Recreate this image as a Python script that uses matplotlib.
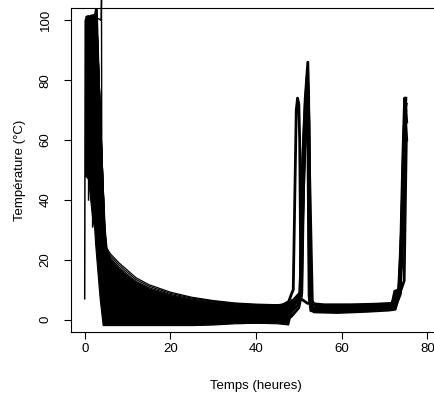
import numpy as np
import matplotlib
matplotlib.use("Agg")
import matplotlib.pyplot as plt

plt.rcParams['font.family'] = ['Liberation Sans', 'DejaVu Sans']

# dense mass of curves (time in hours, temperature in C)
mass_t = [0.2, 0.8, 1.3, 1.8, 2.2, 2.4, 2.8, 3.5, 4.2, 4.7, 5.1, 6, 8, 10, 12, 15,
          20, 25, 30, 35, 40, 45, 47.5, 48.3]
mass_hi = [101.5, 101.5, 101.8, 102, 102, 104, 104, 70, 45, 30, 24, 20, 17, 14.5,
           12.5, 10.3, 8.0, 6.6, 5.6, 5.0, 4.6, 4.5, 5.5, 7]
mass_lo = [48, 47, 40, 33, 31, 26, 19, 7, -1.8, -1.8, -1.8, -1.8, -1.8, -1.8,
           -1.8, -1.8, -1.8, -1.8, -1.6, -1.2, -1.0, -1.2, -1.6, 3]

# upper cooling curves (visible as separate lines)
cool_t = [2.8, 4.7, 5.1, 6, 8, 10, 12, 15, 20, 25, 30, 35, 40, 45, 48]
cool_1 = [101, 30, 24, 22, 19, 16.5, 14, 11.7, 9.2, 7.5, 6.4, 5.6, 5.2, 5.0, 5.5]
cool_2 = [101, 29.5, 23.5, 21.3, 18.3, 15.8, 13.4, 11.2, 8.8, 7.2, 6.2, 5.4, 5.0, 4.8, 5.3]
cool_3 = [101, 29, 23, 20.6, 17.6, 15.1, 12.8, 10.7, 8.4, 6.9, 5.9, 5.2, 4.8, 4.6, 5.0]
cool_4 = [101, 28.5, 22.5, 20.0, 17.0, 14.6, 12.4, 10.3, 8.1, 6.6, 5.7, 5.0, 4.6, 4.5, 4.8]

# start of the records
start_t = [[0.0, 0.12, 0.5], [0.25, 0.35, 0.8], [0.9, 1.0, 1.4], [1.85, 1.95, 2.3]]
start_T = [[7, 100, 101], [48, 101, 101.5], [40, 101, 101.5], [31, 101, 102]]

# overshoot near t = 4 h
spike_t = [2.6, 3.85, 3.92, 4.0, 4.3, 5.0]
spike_T = [101, 100, 107, 40, 25, 21]

# reheating phases
late_t = [
    [42, 46, 47.6, 48.4, 48.7, 49.4, 49.7, 50.0, 50.2, 50.5, 52, 56, 62, 68, 71.8,
     72.4, 73.3, 73.8, 74.3, 74.7, 75.0],
    [42, 46, 47.8, 49, 50.3, 50.8, 51.5, 52.1, 52.3, 52.5, 53, 56, 62, 68, 71.6,
     72.4, 73.4, 74.0, 74.5, 74.9, 75.2],
    [40, 45, 48, 49.5, 50.6, 51.2, 51.8, 52.2, 52.5, 53, 58, 64, 70, 72.0, 72.6,
     73.5, 74.2, 74.7, 75.1],
    [38, 44, 47.9, 49.8, 50.5, 51.0, 51.7, 52.0, 52.4, 52.8, 57, 63, 69, 72.3, 73.0,
     73.7, 74.4, 74.8, 75.2],
    [36, 43, 48.2, 50.0, 50.7, 51.3, 51.9, 52.3, 52.6, 53.5, 59, 66, 71.0, 72.5,
     73.4, 74.6, 75.1],
    [44, 47, 48.5, 50.4, 50.9, 51.5, 52.0, 52.4, 52.7, 54, 60, 67, 71.3, 72.6,
     73.6, 74.5, 74.9],
    [45, 47.5, 48.8, 50.2, 50.9, 51.6, 52.2, 52.5, 53.2, 58, 64, 70, 72.2, 73.2,
     74.1, 74.6, 75.0],
]
late_T = [
    [4.5, 4.8, 6, 9, 10, 70, 74, 72, 60, 7, 5.5, 5, 5, 5.2, 5.5, 9.5, 10, 25, 55,
     74, 70],
    [2, 2.5, 4, 7, 9, 50, 74, 86, 75, 8, 4, 3.8, 3.8, 4.2, 4.6, 8, 9.5, 30, 60, 72,
     66],
    [1, 1.5, 3, 6, 8, 58, 76, 70, 8, 3.5, 3.2, 3.4, 3.8, 4.2, 7, 9, 40, 68, 72],
    [0, 0.5, 2, 5, 8, 45, 68, 80, 8, 3, 2.7, 3.0, 3.3, 3.6, 6, 8.5, 45, 70, 60],
    [-1, -0.8, 1, 4, 9, 62, 78, 60, 6, 2.6, 2.4, 2.8, 3.2, 3.5, 8, 13, 60],
    [3, 3.5, 6, 9, 52, 72, 82, 66, 7, 4.5, 4.5, 4.7, 5.0, 5.4, 9, 35, 66],
    [0.5, 2, 5, 8, 35, 64, 74, 50, 3, 2.8, 3.1, 3.5, 3.8, 8.5, 20, 58, 74],
]

fig = plt.figure(figsize=(4.35, 3.94), dpi=100)
ax = fig.add_axes([71 / 435, 62.3 / 394, 370 / 435, 323.4 / 394])

ax.fill_between(mass_t, mass_lo, mass_hi, color='black', lw=0.8)
for c in [cool_1, cool_2, cool_3, cool_4]:
    ax.plot(cool_t, c, color='black', lw=0.9)
for tt, TT in zip(start_t, start_T):
    ax.plot(tt, TT, color='black', lw=1.1)
ax.plot(spike_t, spike_T, color='black', lw=1.0, clip_on=False)
for tt, TT in zip(late_t, late_T):
    ax.plot(tt, TT, color='black', lw=2.0)

ax.set_xlim(-3.2, 83.2)
ax.set_ylim(-4, 104)
ax.set_xticks([0, 20, 40, 60, 80])
ax.set_yticks([0, 20, 40, 60, 80, 100])
for lab in ax.get_yticklabels():
    lab.set_rotation(90)
    lab.set_va('center')
ax.tick_params(direction='out', length=5, width=0.8, labelsize=9.5, pad=3)
ax.tick_params(axis='y', pad=9)
for s in ax.spines.values():
    s.set_linewidth(0.8)
ax.set_xlabel('Temps (heures)', fontsize=9.5, labelpad=18)
ax.set_ylabel('Température (°C)', fontsize=9.5, labelpad=10)

fig.savefig('out.png', dpi=100)
